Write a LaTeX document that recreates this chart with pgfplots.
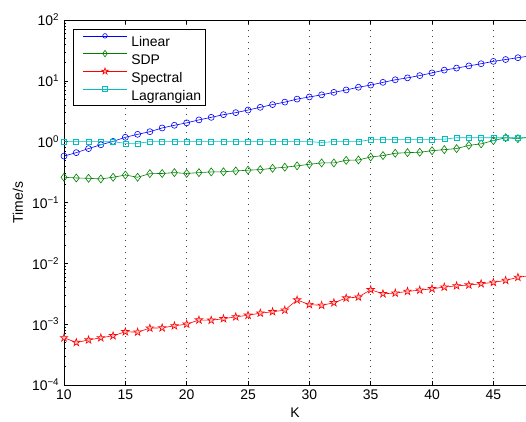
\documentclass[border=0pt]{standalone}
\usepackage{fontspec}
\setmainfont{Liberation Sans}
\usepackage{pgfplots}
\pgfplotsset{compat=1.18}
\usetikzlibrary{plotmarks}
\definecolor{mgreen}{rgb}{0,0.5,0}
\definecolor{mcyan}{rgb}{0,0.75,0.75}
\pgfdeclareplotmark{pentagram}{%
  \pgfpathmoveto{\pgfqpointpolar{90}{\pgfplotmarksize}}%
  \pgfpathlineto{\pgfqpointpolar{126}{0.382\pgfplotmarksize}}%
  \pgfpathlineto{\pgfqpointpolar{162}{\pgfplotmarksize}}%
  \pgfpathlineto{\pgfqpointpolar{198}{0.382\pgfplotmarksize}}%
  \pgfpathlineto{\pgfqpointpolar{234}{\pgfplotmarksize}}%
  \pgfpathlineto{\pgfqpointpolar{270}{0.382\pgfplotmarksize}}%
  \pgfpathlineto{\pgfqpointpolar{306}{\pgfplotmarksize}}%
  \pgfpathlineto{\pgfqpointpolar{342}{0.382\pgfplotmarksize}}%
  \pgfpathlineto{\pgfqpointpolar{18}{\pgfplotmarksize}}%
  \pgfpathlineto{\pgfqpointpolar{54}{0.382\pgfplotmarksize}}%
  \pgfpathclose
  \pgfusepathqfillstroke}
\begin{document}
\fontsize{14}{16}\selectfont
\begin{tikzpicture}
\begin{axis}[name=ax, scale only axis, width=462bp, height=365bp,
  xmin=10, xmax=47.66, ymode=log, ymin=1e-4, ymax=1e2,
  axis x line*=box, axis y line*=left,
  axis line style={line width=0.6bp},
  tick align=inside, major tick length=4bp, minor tick length=2bp,
  tick style={black, line width=0.5bp},
  xtick={10,15,...,45},
  ytick={1e-4,1e-3,1e-2,1e-1,1,1e1,1e2},
  yticklabels={10\textsuperscript{−4},10\textsuperscript{−3},10\textsuperscript{−2},10\textsuperscript{−1},10\textsuperscript{0},10\textsuperscript{1},10\textsuperscript{2}},
  /pgf/number format/assume math mode=true,
  ticklabel style={font=\fontsize{14}{16}\selectfont},
  xmajorgrids, major grid style={black!75, line width=0.6bp, dash pattern=on 0.7bp off 5.3bp},
  xlabel={K}, ylabel={Time/s},
  xlabel style={at={(axis description cs:0.5,-0.0767)}, anchor=center},
  ylabel style={at={(axis description cs:-0.0996,0.5)}, anchor=center},
  legend style={at={(axis description cs:0.0201,0.9746)}, anchor=north west,
    draw=black, line width=0.6bp, font=\fontsize{14}{16}\selectfont,
    row sep=0bp, column sep=0bp, inner xsep=4bp, inner ysep=2.45bp,
    nodes={inner sep=0bp, text height=14.95bp, text depth=2.75bp}},
  legend cell align=left,
  legend image code/.code={%
    \begin{pgfscope}\pgfpathmoveto{\pgfpoint{0bp}{4bp}}\pgfpathlineto{\pgfpoint{53.7bp}{4bp}}\pgfusepath{discard}\end{pgfscope}%
    \draw[mark repeat=2,mark phase=2,#1] plot coordinates {(5.4bp,5bp) (27.4bp,5bp) (49.4bp,5bp)};},
]
\addplot[blue, line width=0.6bp, mark=o, mark size=3bp, legend image post style={mark size=2.3bp}] coordinates {
(10,0.58)(11,0.66)(12,0.77)(13,0.89)(14,1.01)(15,1.18)(16,1.32)(17,1.46)(18,1.68)(19,1.86)
(20,2.04)(21,2.28)(22,2.51)(23,2.78)(24,3.00)(25,3.31)(26,3.67)(27,4.07)(28,4.47)(29,5.01)
(30,5.43)(31,5.89)(32,6.46)(33,7.08)(34,7.85)(35,8.51)(36,9.44)(37,10.4)(38,11.2)(39,12.2)
(40,13.5)(41,15.0)(42,16.2)(43,17.6)(44,19.1)(45,20.9)(46,22.4)(47,24.0)(48,25.7)};
\addlegendentry{Linear}
\addplot[mgreen, line width=0.6bp, mark=diamond, mark size=4bp, legend image post style={mark size=3.2bp}] coordinates {
(10,0.26)(11,0.253)(12,0.25)(13,0.244)(14,0.26)(15,0.283)(16,0.26)(17,0.298)(18,0.30)(19,0.31)
(20,0.30)(21,0.31)(22,0.318)(23,0.32)(24,0.33)(25,0.34)(26,0.347)(27,0.365)(28,0.38)(29,0.40)
(30,0.425)(31,0.447)(32,0.447)(33,0.494)(34,0.50)(35,0.56)(36,0.59)(37,0.645)(38,0.66)(39,0.67)
(40,0.71)(41,0.74)(42,0.77)(43,0.87)(44,0.92)(45,1.04)(46,1.16)(47,1.12)(48,1.2)};
\addlegendentry{SDP}
\addplot[red, line width=0.6bp, mark=pentagram, mark size=4bp, mark options={fill=red!25}, legend image post style={mark size=3.4bp}] coordinates {
(10,5.97e-4)(11,5.0e-4)(12,5.5e-4)(13,5.97e-4)(14,6.45e-4)(15,7.5e-4)(16,7.4e-4)(17,8.6e-4)(18,8.7e-4)(19,9.4e-4)
(20,1.0e-3)(21,1.17e-3)(22,1.16e-3)(23,1.23e-3)(24,1.32e-3)(25,1.40e-3)(26,1.52e-3)(27,1.60e-3)(28,1.70e-3)(29,2.5e-3)
(30,2.1e-3)(31,2.04e-3)(32,2.25e-3)(33,2.69e-3)(34,2.79e-3)(35,3.68e-3)(36,3.16e-3)(37,3.24e-3)(38,3.46e-3)(39,3.63e-3)
(40,3.82e-3)(41,4.07e-3)(42,4.27e-3)(43,4.4e-3)(44,4.62e-3)(45,4.86e-3)(46,5.25e-3)(47,5.89e-3)(48,6.3e-3)};
\addlegendentry{Spectral}
\addplot[mcyan, line width=0.6bp, mark=square, mark size=2.5bp, legend image post style={mark size=2.2bp}] coordinates {
(10,1.0)(11,1.0)(12,1.0)(13,1.0)(14,1.0)(15,0.94)(16,0.94)(17,1.0)(18,1.0)(19,1.0)
(20,1.0)(21,1.0)(22,1.0)(23,1.0)(24,1.0)(25,1.0)(26,1.0)(27,1.0)(28,1.0)(29,1.0)
(30,1.0)(31,0.97)(32,1.0)(33,1.0)(34,1.0)(35,1.08)(36,1.08)(37,1.08)(38,1.08)(39,1.08)
(40,1.08)(41,1.1)(42,1.16)(43,1.16)(44,1.16)(45,1.16)(46,1.16)(47,1.16)(48,1.16)};
\addlegendentry{Lagrangian}
\end{axis}
\pgfresetboundingbox
\path[use as bounding box] ([xshift=-64bp,yshift=-37bp]ax.south west) rectangle ([yshift=20bp]ax.north east);
\end{tikzpicture}
\end{document}
